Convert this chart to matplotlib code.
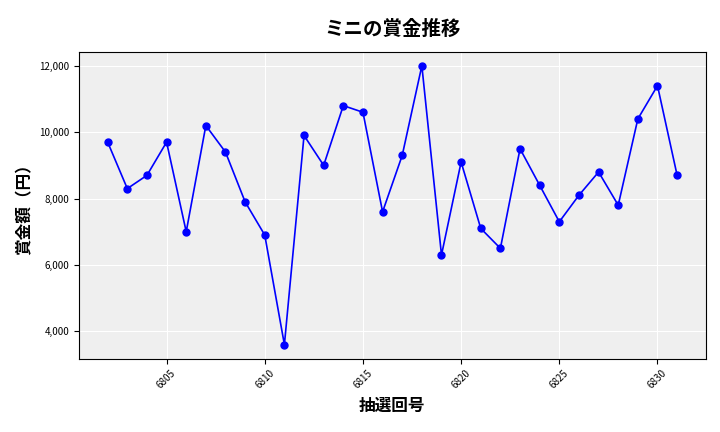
import matplotlib
matplotlib.use("Agg")
import matplotlib.pyplot as plt
from matplotlib.ticker import FuncFormatter

plt.rcParams['font.family'] = ['Noto Sans CJK JP', 'DejaVu Sans']

draws = list(range(6802, 6832))
values = [9700, 8300, 8700, 9700, 7000, 10200, 9400, 7900, 6900, 3600,
          9900, 9000, 10800, 10600, 7600, 9300, 12000, 6300, 9100, 7100,
          6500, 9500, 8400, 7300, 8100, 8800, 7800, 10400, 11400, 8700]
xticks = [6805, 6810, 6815, 6820, 6825, 6830]

fig, ax = plt.subplots(figsize=(7.2, 4.32), dpi=100)
ax.set_facecolor('#efefef')
ax.plot(draws, values, color='blue', marker='o', markersize=5, linewidth=1.2)
ax.grid(True, color='white', linewidth=0.8)
ax.set_axisbelow(True)
ax.set_xticks(xticks)
ax.tick_params(axis='x', labelrotation=45, labelsize=7)
ax.tick_params(axis='y', labelsize=7)
ax.yaxis.set_major_formatter(FuncFormatter(lambda v, p: f'{int(v):,}'))
ax.set_title('ミニの賞金推移', fontsize=14, fontweight='bold', pad=12)
ax.set_xlabel('抽選回号', fontsize=12, fontweight='bold')
ax.set_ylabel('賞金額（円）', fontsize=12, fontweight='bold')
fig.subplots_adjust(left=0.11, right=0.98, top=0.88, bottom=0.17)
fig.savefig('out.png')
